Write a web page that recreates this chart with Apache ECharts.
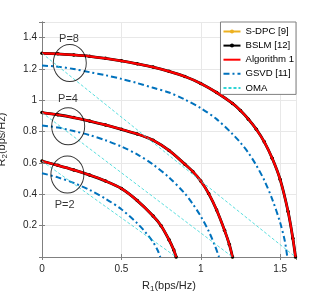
<!DOCTYPE html>
<html><head><meta charset="utf-8">
<script src="https://cdn.jsdelivr.net/npm/echarts@6/dist/echarts.min.js"></script>
<style>html,body{margin:0;padding:0;background:#fff}#c{width:327px;height:296px}</style>
</head><body><div id="c"></div>
<script>
// Capacity-region boundary (S-DPC / BSLM / Algorithm 1 coincide)
const capX8 = [0, 0.1, 0.2, 0.3, 0.4, 0.5, 0.6, 0.7, 0.8, 0.9, 1.0, 1.1, 1.2, 1.25, 1.3, 1.35, 1.4, 1.45, 1.5, 1.55, 1.58, 1.597];
const capY8 = [1.30, 1.297, 1.29, 1.281, 1.268, 1.252, 1.233, 1.212, 1.185, 1.152, 1.108, 1.05, 0.98, 0.935, 0.88, 0.815, 0.735, 0.63, 0.495, 0.29, 0.12, 0];
const capX4 = [0, 0.1, 0.2, 0.3, 0.4, 0.5, 0.6, 0.7, 0.8, 0.9, 0.95, 1.0, 1.05, 1.1, 1.15, 1.18, 1.2];
const capY4 = [0.922, 0.908, 0.89, 0.868, 0.843, 0.815, 0.785, 0.745, 0.68, 0.592, 0.545, 0.485, 0.405, 0.30, 0.17, 0.08, 0];
const capX2 = [0, 0.1, 0.2, 0.3, 0.4, 0.5, 0.6, 0.7, 0.75, 0.8, 0.83, 0.845];
const capY2 = [0.612, 0.585, 0.556, 0.523, 0.485, 0.437, 0.36, 0.262, 0.2, 0.11, 0.045, 0];
// GSVD [11]
const gsvdX8 = [0, 0.1, 0.2, 0.3, 0.4, 0.5, 0.6, 0.7, 0.8, 0.9, 1.0, 1.1, 1.2, 1.25, 1.3, 1.35, 1.4, 1.45, 1.5, 1.53, 1.545];
const gsvdY8 = [1.222, 1.215, 1.2, 1.18, 1.16, 1.137, 1.11, 1.08, 1.05, 1.005, 0.95, 0.88, 0.785, 0.73, 0.665, 0.585, 0.49, 0.37, 0.22, 0.1, 0];
const gsvdX4 = [0, 0.1, 0.2, 0.3, 0.4, 0.5, 0.6, 0.7, 0.8, 0.9, 0.95, 1.0, 1.05, 1.09, 1.115];
const gsvdY4 = [0.84, 0.826, 0.804, 0.778, 0.745, 0.705, 0.655, 0.59, 0.508, 0.405, 0.338, 0.26, 0.165, 0.07, 0];
const gsvdX2 = [0, 0.1, 0.2, 0.3, 0.4, 0.5, 0.6, 0.65, 0.7, 0.73, 0.745];
const gsvdY2 = [0.535, 0.508, 0.473, 0.428, 0.372, 0.305, 0.215, 0.16, 0.095, 0.04, 0];
// OMA
const omaX8 = [0, 1.597], omaY8 = [1.30, 0];
const omaX4 = [0, 1.2], omaY4 = [0.922, 0];
const omaX2 = [0, 0.845], omaY2 = [0.612, 0];
// Annotations
const annotText = ['P=8', 'P=4', 'P=2'];
const annotTextX = [0.17, 0.164, 0.143];
const annotTextY = [1.394, 1.008, 0.334];
const circleX = [0.175, 0.165, 0.16];
const circleY = [1.238, 0.835, 0.527];
const legendNames = ['S-DPC [9]', 'BSLM [12]', 'Algorithm 1', 'GSVD [11]', 'OMA'];
const xTicks = [0, 0.5, 1, 1.5];
const yTicks = [0.2, 0.4, 0.6, 0.8, 1, 1.2, 1.4];

const FONT = 'Liberation Sans, Arial, sans-serif';
const zip = (xs, ys) => xs.map((x, i) => [x, ys[i]]);
const caps = [[capX8, capY8], [capX4, capY4], [capX2, capY2]];
const gsvds = [[gsvdX8, gsvdY8], [gsvdX4, gsvdY4], [gsvdX2, gsvdY2]];
const omas = [[omaX8, omaY8], [omaX4, omaY4], [omaX2, omaY2]];

const series = [];
caps.forEach(([xs, ys]) => series.push({
  name: legendNames[0], type: 'line', data: zip(xs, ys), smooth: 0.3,
  symbol: 'circle', symbolSize: 3, showSymbol: true, color: '#EDB120',
  lineStyle: { width: 1.5, color: '#EDB120' }, itemStyle: { color: '#EDB120' }, z: 2
}));
caps.forEach(([xs, ys]) => series.push({
  name: legendNames[1], type: 'line', data: zip(xs, ys), smooth: 0.3,
  symbol: 'circle', symbolSize: 3.5, showSymbol: true, color: '#000',
  lineStyle: { width: 2.8, color: '#000' }, itemStyle: { color: '#000' }, z: 3
}));
caps.forEach(([xs, ys]) => series.push({
  name: legendNames[2], type: 'line', data: zip(xs, ys), smooth: 0.3,
  symbol: 'none', color: '#FF0000', lineStyle: { width: 2.2, color: '#FF0000' }, z: 4
}));
gsvds.forEach(([xs, ys]) => series.push({
  name: legendNames[3], type: 'line', data: zip(xs, ys), smooth: 0.3,
  symbol: 'none', color: '#0072BD', lineStyle: { width: 2, color: '#0072BD', type: [6, 3, 2, 3] }, z: 5
}));
omas.forEach(([xs, ys]) => series.push({
  name: legendNames[4], type: 'line', data: zip(xs, ys),
  symbol: 'none', color: '#30D5D5', lineStyle: { width: 0.8, color: '#30D5D5', type: [3, 2] }, z: 6
}));
series.push({
  type: 'scatter', data: zip(circleX, circleY), symbol: 'circle', symbolSize: [33, 37],
  itemStyle: { color: 'transparent', borderColor: '#000', borderWidth: 1 }, silent: true, z: 10
});
series.push({
  type: 'scatter', data: zip(annotTextX, annotTextY), symbolSize: 0, silent: true, z: 10,
  label: { show: true, position: 'inside', formatter: p => annotText[p.dataIndex],
           fontSize: 11, color: '#000', fontFamily: FONT }
});

const hideSym = { opacity: 0 };
const axisCol = '#808080';
const chart = echarts.init(document.getElementById('c'), null, { renderer: 'canvas' });
chart.setOption({
  animation: false,
  backgroundColor: '#fff',
  grid: { left: 42, right: 31, top: 22, bottom: 39, containLabel: false, outerBoundsMode: 'none' },
  legend: {
    data: [
      { name: legendNames[0] },
      { name: legendNames[1] },
      { name: legendNames[2], itemStyle: hideSym },
      { name: legendNames[3], itemStyle: hideSym },
      { name: legendNames[4], itemStyle: hideSym }
    ],
    orient: 'vertical', right: 31, top: 22,
    itemWidth: 17, itemHeight: 5, itemGap: 4.1, itemTextGap: 1, padding: [4.5, 2, 1.5, 2],
    borderColor: axisCol, borderWidth: 1, backgroundColor: '#fff', selectedMode: false,
    textStyle: { fontSize: 9.6, color: '#000', fontFamily: FONT }
  },
  xAxis: [{
    type: 'value', min: 0, max: 1.6, interval: 0.5, position: 'bottom',
    axisLine: { lineStyle: { color: axisCol } },
    axisTick: { inside: true, length: 3, lineStyle: { color: axisCol } },
    axisLabel: { margin: 7, fontSize: 10, color: '#262626', fontFamily: FONT, showMaxLabel: false,
                 formatter: v => xTicks.includes(v) ? String(v) : '' },
    splitLine: { show: true, lineStyle: { color: '#e8e8e8' } },
    name: '{a|R}{b|1}{a|(bps/Hz)}', nameLocation: 'middle', nameGap: 21, nameMoveOverlap: false,
    nameTextStyle: { rich: { a: { fontSize: 11, color: '#262626', fontFamily: FONT },
                             b: { fontSize: 8, color: '#262626', fontFamily: FONT, padding: [7, 0, 0, 0] } } }
  }, {
    type: 'value', min: 0, max: 1.6, interval: 0.5, position: 'top',
    axisLine: { lineStyle: { color: axisCol } },
    axisTick: { inside: true, length: 3, lineStyle: { color: axisCol } },
    axisLabel: { show: false }, splitLine: { show: false }
  }],
  yAxis: [{
    type: 'value', min: 0, max: 1.5, interval: 0.2, position: 'left',
    axisLine: { lineStyle: { color: axisCol } },
    axisTick: { inside: true, length: 3, lineStyle: { color: axisCol } },
    axisLabel: { margin: 5, fontSize: 10, color: '#262626', fontFamily: FONT,
                 formatter: v => { const t = yTicks.find(k => Math.abs(k - v) < 1e-9); return t === undefined ? '' : String(t); } },
    splitLine: { show: true, lineStyle: { color: '#e8e8e8' } },
    name: '{a|R}{b|2}{a|(bps/Hz)}', nameLocation: 'middle', nameGap: 33, nameRotate: 90, nameMoveOverlap: false,
    nameTextStyle: { rich: { a: { fontSize: 11, color: '#262626', fontFamily: FONT },
                             b: { fontSize: 8, color: '#262626', fontFamily: FONT, padding: [7, 0, 0, 0] } } }
  }, {
    type: 'value', min: 0, max: 1.5, interval: 0.2, position: 'right',
    axisLine: { lineStyle: { color: axisCol } },
    axisTick: { inside: true, length: 3, lineStyle: { color: axisCol } },
    axisLabel: { show: false }, splitLine: { show: false }
  }],
  series: series
});
</script>
</body></html>
